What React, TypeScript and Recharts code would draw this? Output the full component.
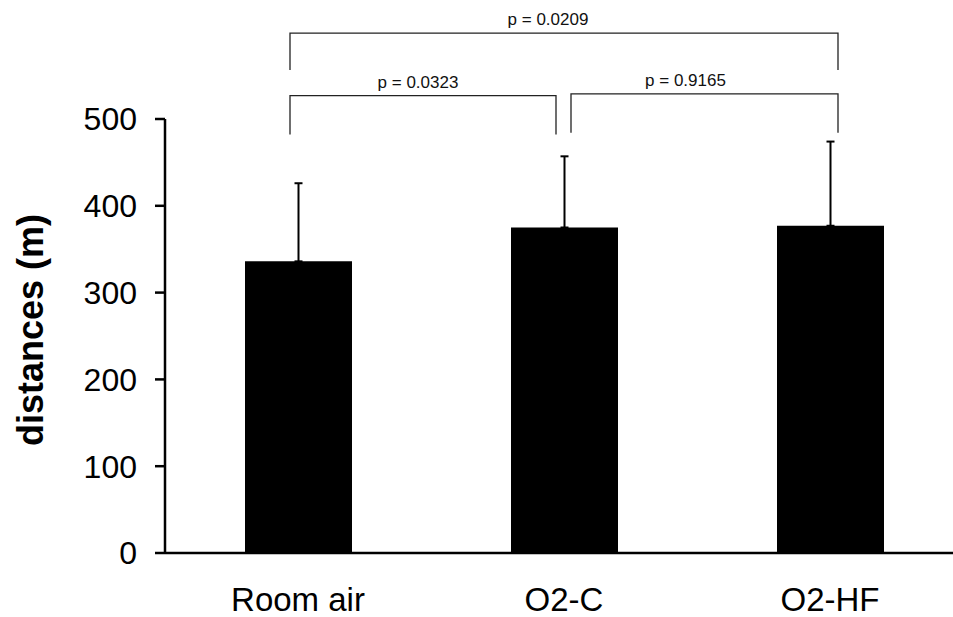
import React from "react";
import { BarChart, Bar, XAxis, YAxis, ErrorBar, ReferenceLine, Label } from "recharts";

const categories = ["Room air", "O2-C", "O2-HF"];
const meanDistance = [336, 375, 377];
const sdDistance = [90, 82, 97];
const yTicks = [0, 100, 200, 300, 400, 500];

const comparisons = [
  { from: "Room air", to: "O2-HF", p: "p = 0.0209" },
  { from: "Room air", to: "O2-C", p: "p = 0.0323" },
  { from: "O2-C", to: "O2-HF", p: "p = 0.9165" },
];

// where each bracket sits: level in axis units, small pixel nudges for the ends
const bracketLevels = [599, 527, 529];
const bracketLook = [
  { dxStart: -8, dxEnd: 8, drop: 37, textDx: -16 },
  { dxStart: -8, dxEnd: -8, drop: 39, textDx: -5 },
  { dxStart: 7, dxEnd: 8, drop: 39, textDx: -19 },
];

const FONT = "'Liberation Sans', Arial, Helvetica, sans-serif";

const data = categories.map((name, i) => ({
  name,
  mean: meanDistance[i],
  err: [0, sdDistance[i]],
}));

const Bracket = (props: any) => {
  const { x1, x2, y1, look, text } = props;
  const xs = x1 + look.dxStart;
  const xe = x2 + look.dxEnd;
  return (
    <g>
      <path
        d={`M${xs},${y1 + look.drop}L${xs},${y1}L${xe},${y1}L${xe},${y1 + look.drop}`}
        fill="none"
        stroke="#222"
        strokeWidth={1.3}
      />
      <text
        x={(xs + xe) / 2 + look.textDx}
        y={y1 - 8}
        textAnchor="middle"
        fontSize={17}
        fontFamily={FONT}
        fill="#111"
      >
        {text}
      </text>
    </g>
  );
};

const App = () => {
  return (
    <div style={{ position: "absolute", left: 0, top: 0, width: 953, height: 617, overflow: "hidden", background: "#fff" }}>
      <BarChart
        width={963}
        height={617}
        data={data}
        margin={{ top: 119, right: 0, bottom: 0, left: 0 }}
        barSize={107}
        style={{ fontFamily: FONT }}
      >
        <XAxis
          dataKey="name"
          height={64}
          axisLine={{ stroke: "#000", strokeWidth: 2.5 }}
          tickLine={false}
          tickSize={0}
          tickMargin={35}
          tick={{ fill: "#000", fontSize: 33, fontFamily: FONT }}
        />
        <YAxis
          width={165}
          domain={[0, 500]}
          ticks={yTicks}
          interval={0}
          axisLine={{ stroke: "#000", strokeWidth: 2.5 }}
          tickLine={{ stroke: "#000", strokeWidth: 2.5 }}
          tickSize={10}
          tickMargin={18}
          tick={{ fill: "#000", fontSize: 32, fontFamily: FONT }}
        >
          <Label
            content={() => (
              <text
                transform="translate(43,330) rotate(-90)"
                textAnchor="middle"
                fontSize={36}
                fontWeight="bold"
                fontFamily={FONT}
                fill="#000"
              >
                distances (m)
              </text>
            )}
          />
        </YAxis>
        <Bar dataKey="mean" fill="#000" isAnimationActive={false}>
          <ErrorBar dataKey="err" direction="y" width={4} stroke="#000" strokeWidth={2} isAnimationActive={false} />
        </Bar>
        {comparisons.map((c, i) => (
          <ReferenceLine
            key={c.p}
            ifOverflow="visible"
            segment={[
              { x: c.from, y: bracketLevels[i] },
              { x: c.to, y: bracketLevels[i] },
            ]}
            shape={(p: any) => <Bracket {...p} look={bracketLook[i]} text={c.p} />}
          />
        ))}
      </BarChart>
    </div>
  );
};

export default App;
